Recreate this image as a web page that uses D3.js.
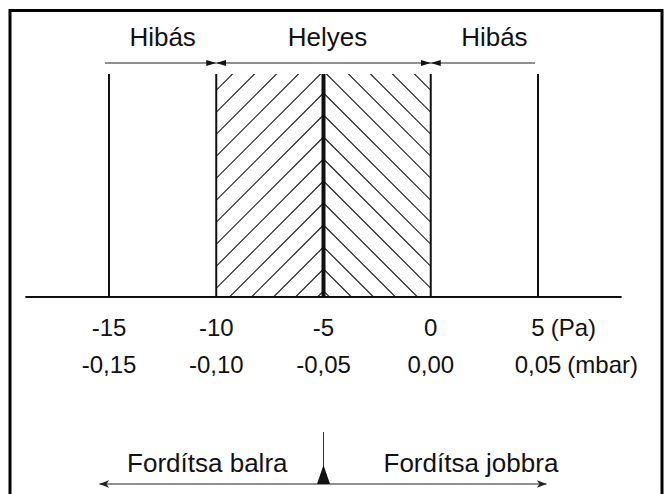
<!DOCTYPE html>
<html>
<head>
<meta charset="utf-8">
<script src="https://cdn.jsdelivr.net/npm/d3@7"></script>
<style>
  body { margin: 0; background: #fff; }
  text { font-family: "Liberation Sans", Arial, Helvetica, sans-serif; fill: #111; }
</style>
</head>
<body>
<div id="main"></div>
<script>
// tick values in Pa and their two label rows
let paTicks = [-15, -10, -5, 0, 5];
let paLabels = ["-15", "-10", "-5", "0", "5"];
let paUnit = "(Pa)";
let mbarLabels = ["-0,15", "-0,10", "-0,05", "0,00", "0,05"];
let mbarUnit = "(mbar)";

// zones along the top arrow line
let zoneNames = ["Hibás", "Helyes", "Hibás"];
let zoneFrom = [-15, -10, 0];
let zoneTo = [-10, 0, 5];

// hatched band and its centre
let bandFrom = -10;
let bandTo = 0;
let target = -5;

let axisExtent = [-18.9, 8.9];
let turnLabels = ["Fordítsa balra", "Fordítsa jobbra"];
let turnExtent = [-15.45, 5.4];

let width = 665;
let height = 494;
let labelSize = 26;
let tickSize = 24;

let svg = d3.select('#main')
  .append('svg')
  .attr('width', width)
  .attr('height', height);

let x = d3.scaleLinear()
  .domain([-15, 5])
  .range([109, 538]);

let yTop = 74;
let yAxis = 297;
let yArrow = 63;

let defs = svg.append('defs');

// filled arrowhead for the zone arrows
defs.append('marker')
  .attr('id', 'head')
  .attr('viewBox', '0 0 10 6')
  .attr('refX', 10)
  .attr('refY', 3)
  .attr('markerWidth', 10)
  .attr('markerHeight', 6)
  .attr('markerUnits', 'userSpaceOnUse')
  .attr('orient', 'auto-start-reverse')
  .append('path')
  .attr('d', 'M0,0 L10,3 L0,6 Z')
  .attr('fill', '#111');

// open arrowhead for the bottom arrow
defs.append('marker')
  .attr('id', 'open')
  .attr('viewBox', '0 0 10 8')
  .attr('refX', 10)
  .attr('refY', 4)
  .attr('markerWidth', 10)
  .attr('markerHeight', 8)
  .attr('markerUnits', 'userSpaceOnUse')
  .attr('orient', 'auto-start-reverse')
  .append('path')
  .attr('d', 'M0,0 L10,4 L0,8 L3,4 Z')
  .attr('fill', '#222');

// frame (bottom edge runs off the picture)
svg.append('path')
  .attr('d', 'M10,' + (height + 5) + ' V10.5 H662 V' + (height + 5))
  .attr('fill', 'none')
  .attr('stroke', '#000')
  .attr('stroke-width', 3);

// hatching, clipped to each half of the band
let spacing = 22;
let halves = [
  { id: 'clipL', x0: x(bandFrom), x1: x(target), dir: -1 },
  { id: 'clipR', x0: x(target), x1: x(bandTo), dir: 1 }
];

halves.forEach(function(h) {
  defs.append('clipPath')
    .attr('id', h.id)
    .append('rect')
    .attr('x', h.x0)
    .attr('y', yTop)
    .attr('width', h.x1 - h.x0)
    .attr('height', yAxis - yTop);

  let xc = x(target);
  let lines = [];
  let span = yAxis - yTop;
  // lines meet the centre line at the same heights, forming chevrons
  for (let k = -12; k <= 12; k++) {
    let yc = yTop + 19 + k * spacing;
    lines.push({
      x1: xc, y1: yc,
      x2: xc + h.dir * span * 1.5, y2: yc + span * 1.5
    });
  }
  svg.append('g')
    .attr('clip-path', 'url(#' + h.id + ')')
    .selectAll('line')
    .data(lines)
    .enter().append('line')
    .attr('x1', d => d.x1)
    .attr('y1', d => d.y1)
    .attr('x2', d => d.x2)
    .attr('y2', d => d.y2)
    .attr('stroke', '#222')
    .attr('stroke-width', 1.2);
});

// axis line
svg.append('line')
  .attr('x1', x(axisExtent[0]))
  .attr('x2', x(axisExtent[1]))
  .attr('y1', yAxis)
  .attr('y2', yAxis)
  .attr('stroke', '#111')
  .attr('stroke-width', 2);

// vertical tick lines
svg.append('g')
  .selectAll('line')
  .data(paTicks)
  .enter().append('line')
  .attr('x1', d => x(d))
  .attr('x2', d => x(d))
  .attr('y1', yTop)
  .attr('y2', yAxis)
  .attr('stroke', '#111')
  .attr('stroke-width', d => d === target ? 4 : 2);

// tick labels, numbers centred on the tick, unit trailing
function labelRow(labels, unit, y) {
  let g = svg.append('g');
  let t = g.selectAll('text')
    .data(labels)
    .enter().append('text')
    .attr('x', (d, i) => x(paTicks[i]))
    .attr('y', y)
    .attr('text-anchor', 'middle')
    .attr('font-size', tickSize)
    .text(d => d);
  let last = t.nodes()[labels.length - 1];
  let w = last.getComputedTextLength();
  g.append('text')
    .attr('x', x(paTicks[labels.length - 1]) + w / 2 + 6)
    .attr('y', y)
    .attr('font-size', tickSize)
    .text(unit);
}
labelRow(paLabels, paUnit, 336);
labelRow(mbarLabels, mbarUnit, 373);

// zone arrows along the top
let zones = zoneNames.map((n, i) => ({ name: n, from: zoneFrom[i], to: zoneTo[i] }));

svg.append('g')
  .selectAll('line')
  .data(zones)
  .enter().append('line')
  .attr('x1', d => x(d.from) - (d.from === -15 ? 4 : 0))
  .attr('x2', d => x(d.to) - (d.to === 5 ? 3 : 0))
  .attr('y1', yArrow)
  .attr('y2', yArrow)
  .attr('stroke', '#222')
  .attr('stroke-width', 1)
  .attr('marker-start', d => d.from === bandFrom || d.from === bandTo ? 'url(#head)' : null)
  .attr('marker-end', d => d.to === bandTo || d.to === bandFrom ? 'url(#head)' : null);

svg.append('g')
  .selectAll('text')
  .data(zones)
  .enter().append('text')
  .attr('x', d => (x(d.from) + x(d.to)) / 2 + (d.from === bandTo ? 10 : (d.from === bandFrom ? 4 : 0)))
  .attr('y', 46)
  .attr('text-anchor', 'middle')
  .attr('font-size', labelSize)
  .text(d => d.name);

// turn direction indicator at the bottom
let yTurn = 484;
svg.append('line')
  .attr('x1', x(turnExtent[0]))
  .attr('x2', x(turnExtent[1]))
  .attr('y1', yTurn)
  .attr('y2', yTurn)
  .attr('stroke', '#222')
  .attr('stroke-width', 1)
  .attr('marker-start', 'url(#open)')
  .attr('marker-end', 'url(#open)');

svg.append('line')
  .attr('x1', x(target))
  .attr('x2', x(target))
  .attr('y1', 432)
  .attr('y2', yTurn)
  .attr('stroke', '#333')
  .attr('stroke-width', 1);

svg.append('path')
  .attr('d', 'M' + x(target) + ',' + 465 + ' L' + (x(target) + 6.5) + ',' + yTurn + ' L' + (x(target) - 6.5) + ',' + yTurn + ' Z')
  .attr('fill', '#111');

svg.append('g')
  .selectAll('text')
  .data(turnLabels)
  .enter().append('text')
  .attr('x', (d, i) => i === 0 ? x(target) - 36 : x(target) + 60)
  .attr('y', 472)
  .attr('text-anchor', (d, i) => i === 0 ? 'end' : 'start')
  .attr('font-size', labelSize)
  .text(d => d);
</script>
</body>
</html>
